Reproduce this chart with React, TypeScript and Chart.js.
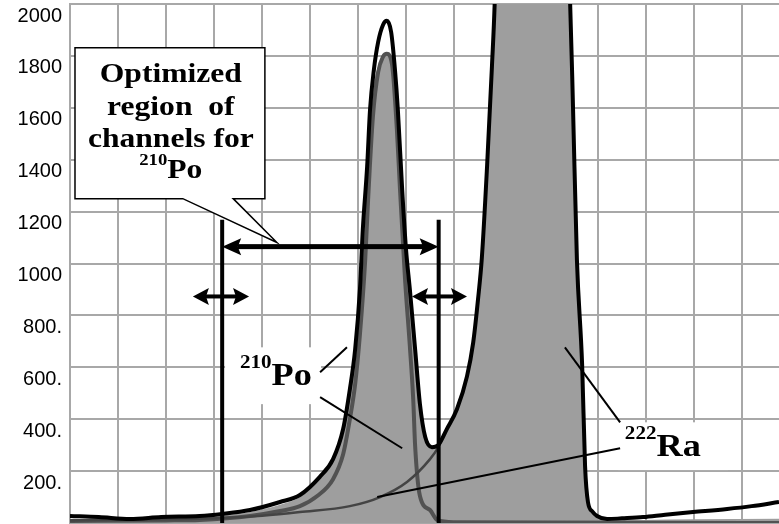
import React, { useEffect, useRef } from "react";
import { Chart, registerables } from "chart.js";

Chart.register(...registerables);

// ---- Data (channel number, counts) ----
const totalChannels = [0, 6, 12.5, 19, 27, 31.7, 37.5, 43.75, 47.9, 52, 54.8, 56.9, 58.3, 59.4, 60.4, 61.0, 61.9, 62.5, 63.3, 64.2, 65.2, 66.0, 66.9, 67.7, 68.3, 69.2, 70.0, 70.8, 71.9, 72.9, 74.0, 75.4, 76.7, 78.5, 80.6, 82.7, 84, 85, 85.8, 86.9, 87.9, 88.5, 90, 93, 96, 99, 102, 103.5, 104.2, 104.8, 105.6, 106.7, 107.3, 107.9, 108.8, 109.8, 111.9, 115, 119.4, 124, 129.8, 136.9, 142, 147.7];
const totalCounts = [27, 23, 15, 23, 27, 35, 50, 81, 108, 177, 246, 362, 515, 669, 900, 1131, 1373, 1592, 1746, 1854, 1919, 1935, 1892, 1746, 1592, 1285, 1054, 900, 669, 458, 331, 292, 300, 362, 438, 565, 696, 862, 1023, 1380, 1760, 2020, 3200, 5600, 6400, 5200, 3000, 2150, 1996, 1592, 1015, 604, 219, 81, 45, 27, 15, 18, 23, 32, 42, 54, 65, 81];

const fitChannels = [0, 12.5, 27, 31.7, 37.5, 43.75, 47.9, 52, 54.8, 56.9, 58.3, 59.4, 60.4, 61.0, 61.9, 62.5, 63.3, 64.2, 65.2, 66.0, 66.9, 67.7, 68.3, 69.2, 70.0, 70.8, 71.9, 72.9, 74.0, 75.4, 76.7, 78.5, 80.6, 82.7, 84, 85, 85.8, 86.9, 87.9, 88.5, 90, 93, 96, 99, 102, 103.5, 104.2, 104.8, 105.6, 106.7, 107.3, 107.9, 108.8, 109.8, 111.9, 119.4, 129.8, 147.7];
const fitCounts = [15, 12, 18, 28, 42, 70, 100, 170, 240, 350, 500, 650, 870, 1100, 1330, 1540, 1690, 1760, 1800, 1812, 1775, 1680, 1560, 1300, 1060, 905, 672, 460, 331, 292, 300, 362, 438, 565, 696, 862, 1023, 1380, 1760, 2020, 3200, 5600, 6400, 5200, 3000, 2150, 2010, 1610, 1030, 620, 230, 90, 40, 25, 15, 12, 14, 16];

const poChannels = [0, 20, 27, 37.5, 43.75, 47.9, 51.5, 54.8, 56.9, 58.3, 59.4, 60.4, 61.5, 62.1, 63.1, 64.2, 65.2, 66.0, 67.1, 68.1, 68.75, 69.8, 70.8, 71.5, 71.9, 72.9, 75, 76.5, 80, 147.7];
const poCounts = [8, 10, 12, 27, 46, 65, 104, 169, 265, 400, 535, 727, 1015, 1246, 1565, 1738, 1796, 1808, 1765, 1515, 1285, 938, 681, 477, 296, 104, 50, 12, 3, 0];

const raTailChannels = [0, 20, 31.7, 40, 47.9, 58.3, 64.6, 70.2, 75, 76.7, 77.6];
const raTailCounts = [10, 14, 19, 28, 42, 65, 100, 158, 246, 292, 330];

const yTickValues = [0, 200, 400, 600, 800, 1000, 1200, 1400, 1600, 1800, 2000];
const yTickLabels = ["", "200.", "400.", "600.", "800.", "1000", "1200", "1400", "1600", "1800", "2000"];

const calloutLines = ["Optimized", "region  of", "channels for"];
const poMass = "210";
const poSymbol = "Po";
const raMass = "222";
const raSymbol = "Ra";

// optimized region boundaries (channels)
const regionStart = 31.7;
const regionEnd = 76.8;

const toPoints = (xs: number[], ys: number[]) => xs.map((x, i) => ({ x, y: ys[i] }));

const SERIF = '"Liberation Serif", "Times New Roman", serif';
const SX = 1.17;

function doubleArrow(ctx: CanvasRenderingContext2D, x1: number, x2: number, y: number, shaft: number, headLen: number, headHalf: number) {
  ctx.fillStyle = "#000";
  ctx.fillRect(x1 + headLen * 0.8, y - shaft / 2, x2 - x1 - headLen * 1.6, shaft);
  ctx.beginPath();
  ctx.moveTo(x1, y);
  ctx.lineTo(x1 + headLen, y - headHalf);
  ctx.lineTo(x1 + headLen * 0.82, y);
  ctx.lineTo(x1 + headLen, y + headHalf);
  ctx.closePath();
  ctx.fill();
  ctx.beginPath();
  ctx.moveTo(x2, y);
  ctx.lineTo(x2 - headLen, y - headHalf);
  ctx.lineTo(x2 - headLen * 0.82, y);
  ctx.lineTo(x2 - headLen, y + headHalf);
  ctx.closePath();
  ctx.fill();
}

function stretchedText(ctx: CanvasRenderingContext2D, text: string, cx: number, baseline: number, size: number) {
  ctx.font = `bold ${size}px ${SERIF}`;
  const w = ctx.measureText(text).width * SX;
  ctx.save();
  ctx.translate(cx - w / 2, baseline);
  ctx.scale(SX, 1);
  ctx.textAlign = "left";
  ctx.textBaseline = "alphabetic";
  ctx.fillStyle = "#000";
  ctx.fillText(text, 0, 0);
  ctx.restore();
}

function isotope(ctx: CanvasRenderingContext2D, mass: string, sym: string, cx: number, baseline: number, big: number, small: number, raise: number) {
  const smallFont = `bold ${small}px ${SERIF}`;
  const bigFont = `bold ${big}px ${SERIF}`;
  ctx.font = smallFont;
  const w1 = ctx.measureText(mass).width;
  ctx.font = bigFont;
  const w2 = ctx.measureText(sym).width;
  const total = (w1 + w2) * SX;
  ctx.save();
  ctx.translate(cx - total / 2, baseline);
  ctx.scale(SX, 1);
  ctx.textAlign = "left";
  ctx.textBaseline = "alphabetic";
  ctx.fillStyle = "#000";
  ctx.font = smallFont;
  ctx.fillText(mass, 0, -big * raise);
  ctx.font = bigFont;
  ctx.fillText(sym, w1, 0);
  ctx.restore();
}

const annotationPlugin = {
  id: "spectrumAnnotations",
  afterDraw(chart: any) {
    const ctx: CanvasRenderingContext2D = chart.ctx;
    const xs = chart.scales.x;
    const ys = chart.scales.y;
    const X = (v: number) => xs.getPixelForValue(v);
    const Y = (v: number) => ys.getPixelForValue(v);
    const bottom = chart.chartArea.bottom;
    ctx.save();

    // white label boxes
    ctx.fillStyle = "#fff";
    ctx.fillRect(X(32.3), Y(677), X(52.3) - X(32.3), Y(458) - Y(677));
    ctx.fillRect(X(114.2), Y(388), X(137.1) - X(114.2), Y(204) - Y(388));

    // leader lines
    ctx.strokeStyle = "#000";
    ctx.lineWidth = 2;
    const seg = (a: number, b: number, c: number, d: number) => {
      ctx.beginPath();
      ctx.moveTo(X(a), Y(b));
      ctx.lineTo(X(c), Y(d));
      ctx.stroke();
    };
    seg(52.1, 581, 57.7, 677);
    seg(52.1, 485, 69.2, 288);
    seg(114.6, 388, 103.1, 677);
    seg(114.6, 288, 64.0, 100);

    // labels
    isotope(ctx, poMass, poSymbol, X(42.9), Y(531), 31, 18, 0.55);
    isotope(ctx, raMass, raSymbol, X(123.5), Y(258), 31, 18, 0.55);

    // region boundary lines
    ctx.lineWidth = 4;
    for (const ch of [regionStart, regionEnd]) {
      ctx.beginPath();
      ctx.moveTo(X(ch), Y(1169));
      ctx.lineTo(X(ch), bottom);
      ctx.stroke();
    }

    // arrows
    doubleArrow(ctx, X(regionStart), X(regionEnd), Y(1065), 5, 19, 8.5);
    doubleArrow(ctx, X(25.6), X(37.3), Y(873), 4, 16, 8.5);
    doubleArrow(ctx, X(71.25), X(82.7), Y(873), 4, 16, 8.5);

    // callout box with pointer
    ctx.beginPath();
    ctx.moveTo(X(1.04), Y(1831));
    ctx.lineTo(X(40.6), Y(1831));
    ctx.lineTo(X(40.6), Y(1250));
    ctx.lineTo(X(34.0), Y(1250));
    ctx.lineTo(X(43.1), Y(1081));
    ctx.lineTo(X(23.5), Y(1250));
    ctx.lineTo(X(1.04), Y(1250));
    ctx.closePath();
    ctx.fillStyle = "#fff";
    ctx.fill();
    ctx.lineWidth = 1.5;
    ctx.strokeStyle = "#000";
    ctx.stroke();

    const cx = X(21.0);
    stretchedText(ctx, calloutLines[0], cx, Y(1700), 27);
    stretchedText(ctx, calloutLines[1], cx, Y(1573), 27);
    stretchedText(ctx, calloutLines[2], cx, Y(1450), 27);
    isotope(ctx, poMass, poSymbol, cx, Y(1331), 27, 16, 0.45);

    ctx.restore();
  },
};

export default function App() {
  const ref = useRef<HTMLCanvasElement | null>(null);

  useEffect(() => {
    if (!ref.current) return;
    const gridColor = "#a8a8a8";
    const chart = new Chart(ref.current, {
      type: "line",
      data: {
        datasets: [
          {
            label: "Measured",
            data: toPoints(totalChannels, totalCounts),
            borderColor: "#000",
            borderWidth: 4,
            pointRadius: 0,
            fill: false,
            cubicInterpolationMode: "monotone",
            order: 0,
          },
          {
            label: "Ra-222 tail",
            data: toPoints(raTailChannels, raTailCounts),
            borderColor: "#444",
            borderWidth: 2.5,
            pointRadius: 0,
            fill: false,
            cubicInterpolationMode: "monotone",
            order: 1,
          },
          {
            label: "Po-210",
            data: toPoints(poChannels, poCounts),
            borderColor: "#525252",
            borderWidth: 4,
            pointRadius: 0,
            fill: false,
            cubicInterpolationMode: "monotone",
            order: 2,
          },
          {
            label: "Fit",
            data: toPoints(fitChannels, fitCounts),
            borderColor: "rgba(0,0,0,0)",
            borderWidth: 0,
            backgroundColor: "#9e9e9e",
            pointRadius: 0,
            fill: "origin",
            cubicInterpolationMode: "monotone",
            order: 3,
          },
        ],
      },
      options: {
        animation: false,
        responsive: true,
        maintainAspectRatio: false,
        devicePixelRatio: 1,
        layout: { padding: { top: 4, left: 0, right: 0, bottom: 1 } },
        plugins: { legend: { display: false }, tooltip: { enabled: false } },
        scales: {
          x: {
            type: "linear",
            min: 0,
            max: 147.7,
            ticks: { display: false, stepSize: 10, includeBounds: false },
            grid: { color: gridColor, lineWidth: 2, drawTicks: false },
            border: { display: true, color: gridColor, width: 2 },
            afterFit: (s: any) => {
              s.height = 0;
              s.paddingLeft = 0;
              s.paddingRight = 0;
            },
          },
          y: {
            type: "linear",
            min: 0,
            max: 2000,
            afterBuildTicks: (s: any) => {
              s.ticks = yTickValues.map((v) => ({ value: v }));
            },
            ticks: {
              callback: (v: any) => yTickLabels[yTickValues.indexOf(Number(v))] ?? "",
              color: "#000",
              font: { family: '"Liberation Sans", Arial, sans-serif', size: 20 },
              padding: 8,
              labelOffset: 12,
            },
            grid: { color: gridColor, lineWidth: 2, drawTicks: false },
            border: { display: true, color: gridColor, width: 2 },
            afterFit: (s: any) => {
              s.width = 70;
              s.paddingTop = 0;
              s.paddingBottom = 0;
            },
          },
        },
      } as any,
      plugins: [annotationPlugin],
    });
    return () => chart.destroy();
  }, []);

  return (
    <div style={{ position: "fixed", left: 0, top: 0, width: 779, height: 524, background: "#fff" }}>
      <canvas ref={ref} />
    </div>
  );
}
